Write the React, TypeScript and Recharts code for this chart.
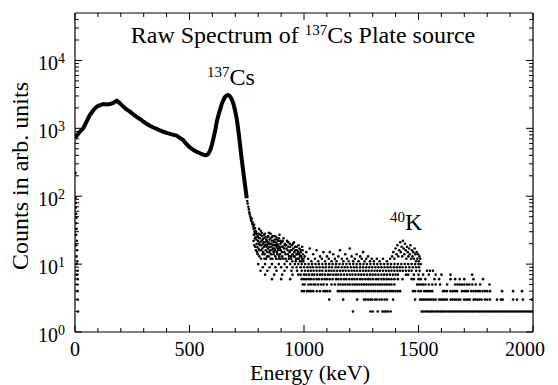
import React from 'react';
import { ComposedChart, Line, Scatter, XAxis, YAxis } from 'recharts';

// smooth part of the spectrum (keV, counts)
const curveEnergy = [0, 10, 20, 36, 50, 65, 80, 95, 110, 124, 140, 153, 170, 182, 195, 211, 225, 240, 255, 269, 285, 298, 312, 327, 342, 357, 372, 386, 400, 415, 430, 444, 459, 473, 488, 500, 517, 532, 546, 560, 568, 580, 590, 597, 604, 612, 619, 626, 633, 640, 648, 655, 662, 670, 677, 684, 691, 698, 706, 713, 721, 728, 735, 742, 750];
const curveCounts = [720, 800, 880, 1000, 1250, 1580, 1850, 2090, 2200, 2280, 2250, 2280, 2400, 2560, 2350, 2090, 1900, 1760, 1600, 1480, 1360, 1260, 1170, 1090, 1030, 980, 930, 890, 860, 830, 800, 780, 720, 670, 580, 530, 480, 450, 430, 410, 400, 410, 470, 560, 700, 920, 1250, 1550, 1850, 2250, 2620, 2900, 3050, 3090, 2950, 2700, 2340, 1900, 1400, 950, 570, 350, 230, 150, 93];

// first channels, along the left axis
const lowEnergy: [number, number][] = [[2, 220], [3, 95], [4, 80], [3, 68], [5, 55], [6, 48], [4, 40], [7, 33], [5, 27], [8, 22], [6, 19], [9, 16], [7, 13], [10, 11], [8, 10], [11, 8], [9, 7], [12, 6], [10, 5], [11, 4], [12, 3], [13, 2]];

// falling edge after the 662 keV peak
const steepTail: [number, number][] = [[752, 85], [754, 78], [757, 70], [759, 64], [761, 58], [763, 54], [766, 50], [768, 46], [770, 43], [772, 47], [774, 39], [776, 41], [778, 36], [780, 33], [782, 38], [784, 30], [786, 34], [788, 28]];

// compton / background cloud above 10 counts
const cloud: [number, number][] = [
  [780, 22], [785, 28], [787, 18], [789, 25], [791, 30], [793, 20], [795, 15], [797, 26], [799, 22], [801, 17], [803, 28], [805, 13], [807, 24], [809, 19], [811, 31], [813, 16], [815, 22], [817, 26], [819, 14], [821, 20],
  [823, 24], [825, 18], [827, 12], [829, 28], [831, 21], [833, 16], [835, 23], [837, 19], [839, 13], [841, 25], [843, 17], [845, 21], [847, 29], [849, 15], [851, 20], [853, 24], [855, 12], [857, 18], [859, 22], [861, 16],
  [863, 26], [865, 19], [867, 14], [869, 21], [871, 17], [873, 23], [875, 13], [877, 19], [879, 25], [881, 15], [883, 20], [885, 17], [887, 22], [889, 12], [891, 18], [893, 27], [895, 14], [897, 20], [899, 16], [902, 21],
  [905, 13], [908, 18], [911, 24], [914, 15], [917, 19], [920, 12], [923, 17], [926, 22], [929, 14], [932, 18], [935, 13], [938, 20], [941, 16], [944, 12], [947, 19], [950, 14], [953, 17], [956, 21], [959, 13], [962, 16],
  [965, 12], [968, 18], [971, 14], [974, 15], [977, 12], [980, 17], [983, 13], [986, 16], [989, 11], [992, 18], [995, 14], [998, 12],
  [1003, 13], [1010, 15], [1018, 12], [1025, 17], [1032, 11], [1040, 14], [1048, 12], [1055, 16], [1062, 11], [1070, 13], [1078, 12], [1085, 15], [1092, 11], [1100, 13], [1108, 12], [1113, 15], [1120, 11], [1128, 14], [1135, 12], [1142, 11],
  [1150, 13], [1157, 16], [1165, 12], [1172, 11], [1180, 14], [1188, 12], [1195, 11], [1200, 17], [1208, 13], [1215, 11], [1222, 12], [1230, 14], [1238, 11], [1245, 13], [1252, 12], [1258, 15], [1265, 11], [1272, 12], [1280, 13], [1288, 11],
  [1296, 12], [1305, 11], [1318, 12], [1330, 11], [1345, 12], [1362, 11], [1376, 12],
  [1385, 13], [1390, 15], [1395, 12], [1400, 17], [1404, 14], [1408, 19], [1412, 13], [1416, 16], [1420, 21], [1423, 15], [1426, 18], [1429, 13], [1432, 22], [1435, 17], [1438, 14], [1441, 20], [1444, 16], [1447, 12], [1450, 18], [1453, 15],
  [1456, 13], [1459, 17], [1462, 14], [1465, 19], [1468, 12], [1471, 16], [1474, 13], [1477, 15], [1480, 12], [1483, 17], [1486, 14], [1489, 11], [1492, 15], [1495, 12], [1498, 14], [1501, 11], [1504, 13], [1508, 12],
];

// the densest stretch just past the edge, second set of channels
const cloudDense: [number, number][] = [
  [781, 27], [783, 19], [786, 24], [788, 31], [790, 16], [792, 23], [794, 28], [796, 18], [798, 14], [800, 25], [802, 20], [804, 33], [806, 16], [808, 21], [810, 27], [812, 12], [814, 19], [816, 29], [818, 17], [820, 23],
  [822, 15], [824, 21], [826, 27], [828, 14], [830, 19], [832, 25], [834, 12], [836, 18], [838, 22], [840, 15], [842, 20], [844, 26], [846, 13], [848, 18], [850, 23], [852, 16], [854, 28], [856, 14], [858, 20], [860, 25],
  [862, 12], [864, 17], [866, 22], [868, 15], [870, 19], [872, 26], [874, 16], [876, 21], [878, 12], [880, 18], [882, 23], [884, 14], [886, 19], [888, 16], [890, 24], [892, 13], [894, 17], [896, 22], [898, 12], [901, 18],
  [904, 15], [907, 22], [910, 12], [913, 17], [916, 20], [919, 14], [922, 19], [925, 11], [928, 16], [931, 21], [934, 12], [937, 15], [940, 18], [943, 13], [946, 16], [949, 11], [952, 20], [955, 13], [958, 15], [961, 18],
  [964, 11], [967, 14], [970, 16], [973, 12], [976, 19], [979, 14], [982, 11], [985, 15], [988, 13], [991, 12], [994, 16], [997, 11],
];

// low-count channels: energies (keV) sitting on each integer level
const band2 = [1214, 1290, 1300, 1322, 1342, 1350, 1358, 1366, 1378, 1514, 1521, 1530, 1538, 1547, 1555, 1562, 1571, 1580, 1588, 1597, 1605, 1612, 1621, 1630, 1638, 1646, 1655, 1663, 1672, 1680, 1688, 1697, 1705, 1713, 1722, 1730, 1738, 1746, 1755, 1764, 1771, 1780, 1788, 1797, 1805, 1813, 1822, 1830, 1838, 1846, 1855, 1863, 1872, 1880, 1888, 1896, 1905, 1913, 1922, 1930, 1938, 1946, 1955, 1963, 1971, 1980, 1988, 1996];
const band3 = [1110, 1171, 1232, 1262, 1270, 1280, 1290, 1298, 1310, 1318, 1330, 1340, 1352, 1362, 1389, 1485, 1507, 1515, 1524, 1532, 1541, 1549, 1558, 1566, 1575, 1590, 1598, 1607, 1615, 1624, 1640, 1648, 1657, 1665, 1674, 1682, 1699, 1707, 1716, 1724, 1741, 1749, 1758, 1766, 1775, 1790, 1800, 1812, 1843, 1860, 1868, 1913, 1930, 1956, 1995];
const band4 = [991, 1000, 1013, 1022, 1030, 1040, 1056, 1070, 1085, 1093, 1102, 1113, 1148, 1156, 1165, 1173, 1182, 1190, 1200, 1210, 1218, 1226, 1235, 1243, 1252, 1260, 1270, 1278, 1286, 1295, 1304, 1312, 1322, 1330, 1338, 1348, 1356, 1364, 1374, 1382, 1390, 1400, 1410, 1420, 1476, 1485, 1500, 1510, 1525, 1533, 1541, 1550, 1560, 1607, 1615, 1624, 1640, 1650, 1660, 1668, 1690, 1700, 1708, 1716, 1730, 1740, 1750, 1760, 1768, 1780, 1790, 1800, 1812, 1865, 1913, 1952];
const band5 = [995, 1003, 1020, 1030, 1042, 1050, 1062, 1075, 1085, 1100, 1120, 1135, 1150, 1160, 1170, 1180, 1190, 1200, 1212, 1222, 1232, 1242, 1252, 1262, 1272, 1282, 1292, 1302, 1312, 1322, 1332, 1342, 1352, 1362, 1372, 1382, 1395, 1494, 1502, 1512, 1520, 1530, 1545, 1560, 1575, 1594, 1625, 1660, 1670, 1680, 1690, 1700, 1712, 1722, 1735, 1750, 1769, 1810];
const band6 = [860, 900, 940, 990, 1000, 1010, 1020, 1030, 1042, 1055, 1065, 1078, 1090, 1100, 1112, 1125, 1140, 1150, 1162, 1175, 1185, 1198, 1210, 1220, 1232, 1245, 1255, 1268, 1280, 1290, 1302, 1315, 1325, 1338, 1348, 1360, 1370, 1382, 1395, 1410, 1430, 1470, 1480, 1500, 1510, 1530, 1570, 1590, 1640, 1660, 1680, 1700, 1740, 1782];
const band7 = [830, 870, 905, 950, 975, 985, 1000, 1010, 1022, 1035, 1045, 1058, 1070, 1080, 1092, 1105, 1115, 1128, 1140, 1150, 1162, 1175, 1188, 1200, 1212, 1225, 1238, 1250, 1262, 1275, 1288, 1300, 1312, 1325, 1338, 1350, 1362, 1375, 1388, 1400, 1410, 1445, 1455, 1480, 1500, 1520, 1545, 1575, 1600, 1640, 1734];
const band8 = [810, 840, 880, 915, 945, 970, 990, 1005, 1018, 1030, 1042, 1055, 1068, 1080, 1095, 1108, 1120, 1132, 1145, 1158, 1170, 1182, 1195, 1208, 1220, 1232, 1245, 1258, 1270, 1282, 1295, 1308, 1320, 1332, 1345, 1358, 1370, 1382, 1395, 1408, 1420, 1432, 1445, 1458, 1470, 1490, 1505, 1537, 1550, 1563];
const band9 = [820, 850, 875, 900, 925, 950, 968, 985, 1000, 1015, 1028, 1040, 1055, 1068, 1082, 1095, 1110, 1122, 1138, 1150, 1165, 1178, 1190, 1205, 1218, 1230, 1245, 1258, 1272, 1285, 1298, 1312, 1325, 1338, 1352, 1365, 1378, 1392, 1405, 1418, 1430, 1445, 1460, 1475, 1490, 1502];
const band10 = [800, 830, 860, 890, 915, 940, 960, 975, 990, 1005, 1020, 1035, 1050, 1065, 1080, 1095, 1110, 1125, 1140, 1155, 1170, 1185, 1200, 1215, 1230, 1245, 1260, 1275, 1290, 1305, 1320, 1335, 1350, 1365, 1380, 1395, 1410, 1425, 1440, 1455, 1470, 1485, 1500, 1510];

const xTicks = [0, 100, 200, 300, 400, 500, 600, 700, 800, 900, 1000, 1100, 1200, 1300, 1400, 1500, 1600, 1700, 1800, 1900, 2000];
const xLabels = [0, 500, 1000, 1500, 2000];
const yTicks = [1, 2, 3, 4, 5, 6, 7, 8, 9, 10, 20, 30, 40, 50, 60, 70, 80, 90, 100, 200, 300, 400, 500, 600, 700, 800, 900, 1000, 2000, 3000, 4000, 5000, 6000, 7000, 8000, 9000, 10000, 20000, 30000, 40000];

const FONT = '"Liberation Serif", "Times New Roman", serif';
const textStyle = { fontFamily: FONT };

const curveData = curveEnergy.map((e, i) => ({ e, c: curveCounts[i] }));
const bandList: [number, number[]][] = [[2, band2], [3, band3], [4, band4], [5, band5], [6, band6], [7, band7], [8, band8], [9, band9], [10, band10]];
const pointData = [
  ...lowEnergy.map(([e, c]) => ({ e, c })),
  ...steepTail.map(([e, c]) => ({ e, c })),
  ...cloud.map(([e, c]) => ({ e, c })),
  ...cloudDense.map(([e, c]) => ({ e, c })),
  ...bandList.flatMap(([c, es]) => es.map((e) => ({ e, c }))),
];

const isDecade = (v: number) => Math.abs(Math.log10(v) - Math.round(Math.log10(v))) < 1e-9;

const Dot = (p: any) => <circle cx={p.cx} cy={p.cy} r={1.3} fill="#000" />;

const LeftTick = ({ x, y, payload }: any) => {
  const v = payload.value;
  const major = isDecade(v);
  return (
    <g>
      <line x1={x} y1={y} x2={x + (major ? 7 : 4)} y2={y} stroke="#000" />
      {major && (
        <text x={x - 10} y={y + 10} textAnchor="end" style={textStyle} fontSize={20} fill="#000">
          10<tspan dy={-7} fontSize={14}>{Math.round(Math.log10(v))}</tspan>
        </text>
      )}
    </g>
  );
};

const RightTick = ({ x, y, payload }: any) => {
  const major = isDecade(payload.value);
  return <line x1={x} y1={y} x2={x - (major ? 7 : 4)} y2={y} stroke="#000" />;
};

const BottomTick = ({ x, y, payload }: any) => {
  const v = payload.value;
  const major = xLabels.includes(v);
  return (
    <g>
      <line x1={x} y1={y} x2={x} y2={y - (major ? 7 : 4)} stroke="#000" />
      {major && (
        <text x={v === 2000 ? x - 8 : x} y={y + 24} textAnchor="middle" style={textStyle} fontSize={20} fill="#000">
          {v}
        </text>
      )}
    </g>
  );
};

const TopTick = ({ x, y, payload }: any) => {
  const major = xLabels.includes(payload.value);
  return <line x1={x} y1={y} x2={x} y2={y + (major ? 7 : 4)} stroke="#000" />;
};

export default function App() {
  return (
    <div style={{ position: 'absolute', left: 0, top: 0, width: 558, height: 385, background: '#fff' }}>
      <ComposedChart width={558} height={385} margin={{ top: 0, right: 0, bottom: 0, left: 0 }}>
        <XAxis xAxisId="bottom" dataKey="e" type="number" domain={[0, 2000]} ticks={xTicks} interval={0}
          tick={<BottomTick />} tickLine={false} tickSize={0} tickMargin={0} height={53}
          axisLine={{ stroke: '#000', strokeWidth: 1.2 }} allowDataOverflow />
        <XAxis xAxisId="top" orientation="top" dataKey="e" type="number" domain={[0, 2000]} ticks={xTicks} interval={0}
          tick={<TopTick />} tickLine={false} tickSize={0} tickMargin={0} height={13}
          axisLine={{ stroke: '#000', strokeWidth: 1.2 }} allowDataOverflow />
        <YAxis yAxisId="left" dataKey="c" type="number" scale="log" domain={[1, 50000]} ticks={yTicks} interval={0}
          tick={<LeftTick />} tickLine={false} tickSize={0} tickMargin={0} width={75}
          axisLine={{ stroke: '#000', strokeWidth: 1.2 }} allowDataOverflow />
        <YAxis yAxisId="right" orientation="right" dataKey="c" type="number" scale="log" domain={[1, 50000]} ticks={yTicks} interval={0}
          tick={<RightTick />} tickLine={false} tickSize={0} tickMargin={0} width={25}
          axisLine={{ stroke: '#000', strokeWidth: 1.2 }} allowDataOverflow />
        <Line xAxisId="bottom" yAxisId="left" data={curveData} dataKey="c" type="linear" stroke="#000"
          strokeWidth={4} strokeLinejoin="round" dot={false} isAnimationActive={false} />
        <Scatter xAxisId="bottom" yAxisId="left" data={pointData} dataKey="c" shape={<Dot />} isAnimationActive={false} />
        <Scatter xAxisId="top" yAxisId="right" data={[]} dataKey="c" isAnimationActive={false} />
      </ComposedChart>
      <svg width={558} height={385} style={{ position: 'absolute', left: 0, top: 0, pointerEvents: 'none', fontFamily: FONT }}
        fill="#000">
        <text x={303} y={43} textAnchor="middle" fontSize={24}>
          Raw Spectrum of <tspan dy={-8} fontSize={15}>137</tspan><tspan dy={8}>Cs Plate source</tspan>
        </text>
        <text x={207} y={85} fontSize={24}>
          <tspan dy={-8} fontSize={15}>137</tspan><tspan dy={8}>Cs</tspan>
        </text>
        <text x={390} y={230} fontSize={24}>
          <tspan dy={-8} fontSize={15}>40</tspan><tspan dy={8}>K</tspan>
        </text>
        <text x={310} y={380} textAnchor="middle" fontSize={22}>Energy (keV)</text>
        <text transform="translate(28,176) rotate(-90)" textAnchor="middle" fontSize={24}>Counts in arb. units</text>
      </svg>
    </div>
  );
}
